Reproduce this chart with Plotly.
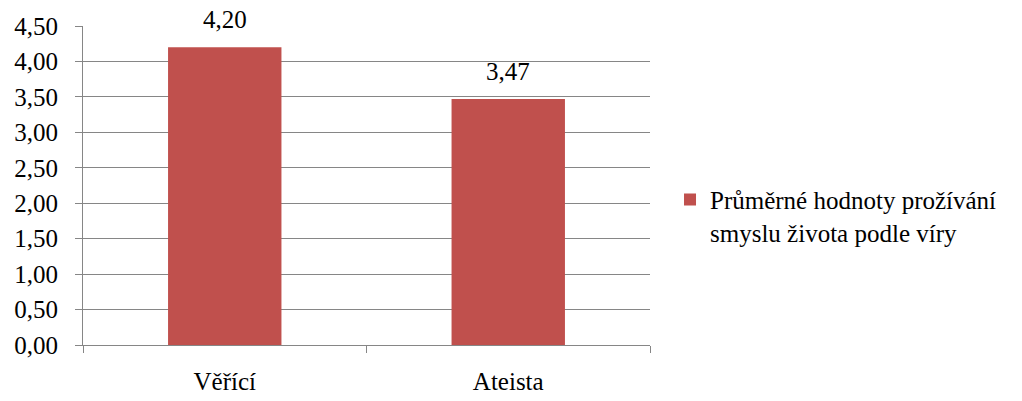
import plotly.graph_objects as go

# Mean life-meaning scores by belief group
categories = ["Věřící", "Ateista"]
values = [4.20, 3.47]
series_name = "Průměrné hodnoty prožívání<br>smyslu života podle víry"
y_ticks = [0.0, 0.5, 1.0, 1.5, 2.0, 2.5, 3.0, 3.5, 4.0, 4.5]

BAR_COLOR = "#C0504D"
AXIS_COLOR = "#868686"
FONT = "Liberation Serif"
FS = 25

fig = go.Figure()
fig.add_trace(go.Bar(
    x=categories,
    y=values,
    name=series_name,
    marker=dict(color=BAR_COLOR, line=dict(width=0)),
    showlegend=True,
))

# Value labels above each bar, formatted with a decimal comma
for cat, val in zip(categories, values):
    fig.add_annotation(
        x=cat, y=val, xref="x", yref="y",
        text=f"{val:.2f}".replace(".", ","),
        showarrow=False, yanchor="bottom", yshift=12,
        font=dict(family=FONT, size=FS, color="black"),
    )

fig.update_layout(
    width=1022, height=401,
    margin=dict(l=83, r=372, t=26, b=56, autoexpand=False),
    paper_bgcolor="white", plot_bgcolor="white",
    separators=",.",
    font=dict(family=FONT, size=FS, color="black"),
    bargap=0.6,
    showlegend=True,
    legend=dict(
        x=1.0353, xanchor="left", y=0.405, yanchor="middle",
        xref="paper", yref="paper",
        valign="top",
        itemwidth=30,
        font=dict(family=FONT, size=FS, color="black"),
        bgcolor="rgba(0,0,0,0)",
    ),
)

fig.update_xaxes(
    type="category",
    automargin=False,
    showline=True, linecolor=AXIS_COLOR, linewidth=1,
    ticks="outside", tickson="boundaries", ticklen=7, tickcolor=AXIS_COLOR,
    showgrid=False, zeroline=False,
    ticklabelstandoff=14,
    tickfont=dict(family=FONT, size=FS, color="black"),
)

fig.update_yaxes(
    range=[0, 4.5],
    automargin=False,
    tickvals=y_ticks,
    tickformat=".2f",
    showline=True, linecolor=AXIS_COLOR, linewidth=1,
    ticks="outside", ticklen=7, tickcolor=AXIS_COLOR,
    showgrid=True, gridcolor=AXIS_COLOR, gridwidth=1,
    zeroline=False,
    ticklabelstandoff=12,
    tickfont=dict(family=FONT, size=FS, color="black"),
)

fig.write_html("out.html")
